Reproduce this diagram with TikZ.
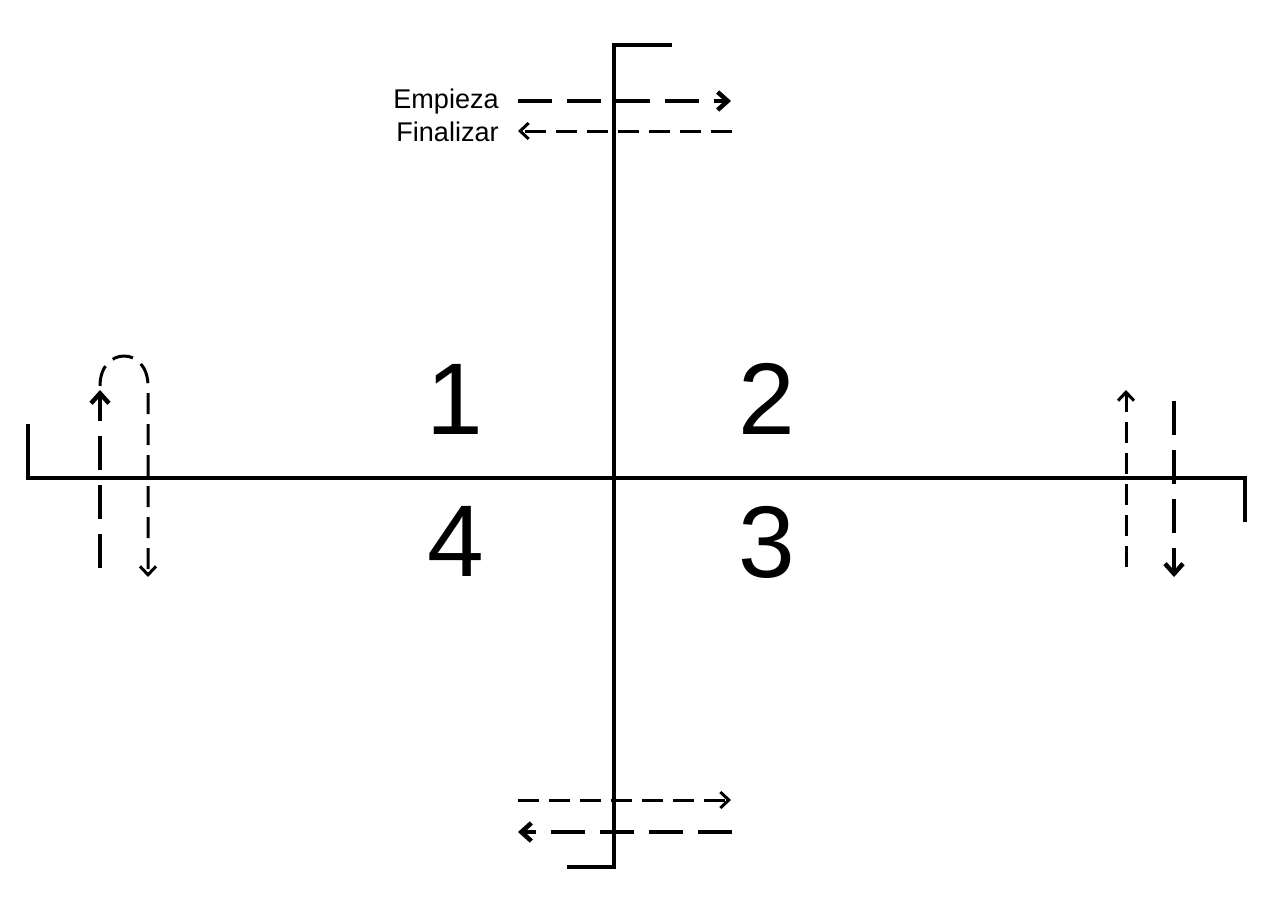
\documentclass[tikz,border=0pt]{standalone}
\usepackage{fontspec}
\setmainfont{Liberation Sans}
\usetikzlibrary{arrows.meta, positioning}

\begin{document}
\begin{tikzpicture}[x=0.02cm, y=-0.02cm,
		axis/.style={line width=0.08cm, line join=miter},
		flowthick/.style={line width=0.09cm, dash pattern=on 0.68cm off 0.3cm, -{Straight Barb[length=0.2cm, width=0.36cm]}},
		flowthin/.style={line width=0.06cm, dash pattern=on 0.42cm off 0.2cm, -{Straight Barb[length=0.17cm, width=0.32cm]}},
		lbl/.style={font=\fontsize{15.4}{17}\selectfont, inner sep=0pt, anchor=base east},
		num/.style={font=\fontsize{58}{58}\selectfont, inner sep=0pt}
	]
	\useasboundingbox (0,0) rectangle (1284,910);

	% axes with their hooks
	\coordinate (vtop) at (672,45);
	\coordinate (vtopc) at (614,45);
	\coordinate (vbotc) at (614,867);
	\coordinate (vbot) at (567,867);
	\coordinate (hleft) at (28,424);
	\coordinate (hleftc) at (28,478);
	\coordinate (hrightc) at (1245,478);
	\coordinate (hright) at (1245,522);
	\draw[axis] (vtop) -- (vtopc) -- (vbotc) -- (vbot);
	\draw[axis] (hleft) -- (hleftc) -- (hrightc) -- (hright);

	% quadrants
	\node[num] (q1) at (455,399) {1};
	\node[num] (q2) at (767,399) {2};
	\node[num] (q3) at (767,542) {3};
	\node[num] (q4) at (456,541) {4};

	% top: start / finish
	\coordinate (ts1) at (518,101);
	\coordinate (ts2) at (731,101);
	\coordinate (tf1) at (732,131);
	\coordinate (tf2) at (518,131);
	\draw[flowthick] (ts1) -- (ts2);
	\draw[flowthin] (tf1) -- (tf2);
	\node[lbl] (start) at (499,108) {Empieza};
	\node[lbl] (finish) at (499,141) {Finalizar};

	% bottom
	\coordinate (bs1) at (518,800);
	\coordinate (bs2) at (731,800);
	\coordinate (bf1) at (732,832);
	\coordinate (bf2) at (518,832);
	\draw[flowthin] (bs1) -- (bs2);
	\draw[flowthick] (bf1) -- (bf2);

	% left loop
	\coordinate (lup1) at (100,568);
	\coordinate (lup2) at (100,390);
	\coordinate (lloop1) at (100,386);
	\coordinate (lloop2) at (148,386);
	\coordinate (ldown) at (148,577);
	\draw[flowthick] (lup1) -- (lup2);
	\draw[flowthin] (lloop1) .. controls +(0,-40) and +(0,-40) .. (lloop2) -- (ldown);

	% right
	\coordinate (rup1) at (1126,567);
	\coordinate (rup2) at (1126,390);
	\coordinate (rdown1) at (1174,401);
	\coordinate (rdown2) at (1174,577);
	\draw[flowthin] (rup1) -- (rup2);
	\draw[flowthick] (rdown1) -- (rdown2);
\end{tikzpicture}
\end{document}
